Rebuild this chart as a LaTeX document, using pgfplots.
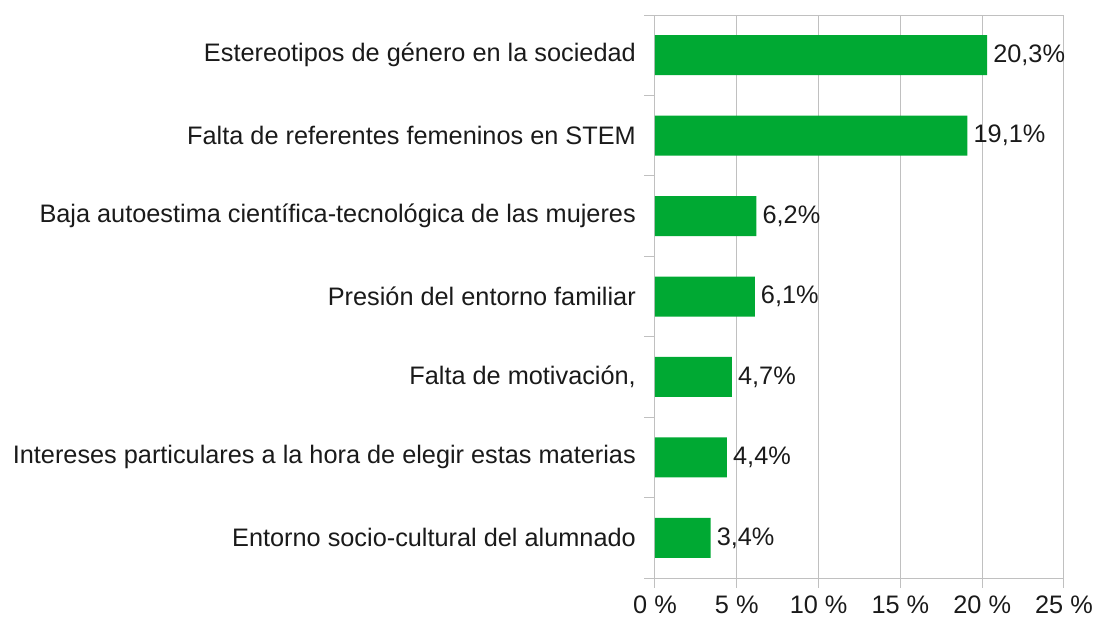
\documentclass[border=0pt]{standalone}
\usepackage{fontspec}
\setmainfont{Liberation Sans}
\usepackage{pgfplots}
\pgfplotsset{compat=1.18}
\definecolor{bargreen}{HTML}{00A933}
\definecolor{gridgray}{HTML}{C0C0C0}
\definecolor{txt}{HTML}{1A1A1A}
\begin{document}
\begin{tikzpicture}
\useasboundingbox (0,0) rectangle (1096pt,619pt);
\begin{axis}[
  at={(655pt,41pt)}, anchor=south west,
  scale only axis, width=409pt, height=563pt,
  xbar, bar width=40pt,
  xmin=0, xmax=25, ymin=0.5, ymax=7.5,
  xtick={0,5,10,15,20,25},
  xticklabels={0 \%,5 \%,10 \%,15 \%,20 \%,25 \%},
  ytick={1,2,3,4,5,6,7},
  yticklabels={Entorno socio-cultural del alumnado,
    Intereses particulares a la hora de elegir estas materias,
    {Falta de motivación,},
    Presión del entorno familiar,
    Baja autoestima científica-tecnológica de las mujeres,
    Falta de referentes femeninos en STEM,
    Estereotipos de género en la sociedad},
  major tick length=0pt,
  xmajorgrids, grid style={gridgray, line width=1pt},
  axis line style={gridgray, line width=1pt},
  tick label style={font=\fontsize{25.3}{30}\selectfont, text=txt},
  xticklabel style={inner sep=0pt, yshift=-18pt},
  yticklabel style={inner sep=0pt, xshift=-19pt},
  clip=false,
  point meta=explicit symbolic,
  nodes near coords,
  every node near coord/.append style={font=\fontsize{25.3}{30}\selectfont, text=txt, inner sep=0pt, anchor=west, xshift=6pt},
]
\addplot[fill=bargreen, draw=none] coordinates {
  (3.4,1) [3,4\%]
  (4.4,2) [4,4\%]
  (4.7,3) [4,7\%]
  (6.1,4) [6,1\%]
  (6.2,5) [6,2\%]
  (19.1,6) [19,1\%]
  (20.3,7) [20,3\%]
};
\pgfplotsinvokeforeach{0.5,1.5,2.5,3.5,4.5,5.5,6.5,7.5}{
  \draw[gridgray, line width=1pt] (axis cs:0,#1) -- ++(-11pt,0pt);
}
\pgfplotsinvokeforeach{0,5,10,15,20,25}{
  \draw[gridgray, line width=1pt] (axis cs:#1,0.5) -- ++(0pt,-10pt);
}
\end{axis}
\end{tikzpicture}
\end{document}
